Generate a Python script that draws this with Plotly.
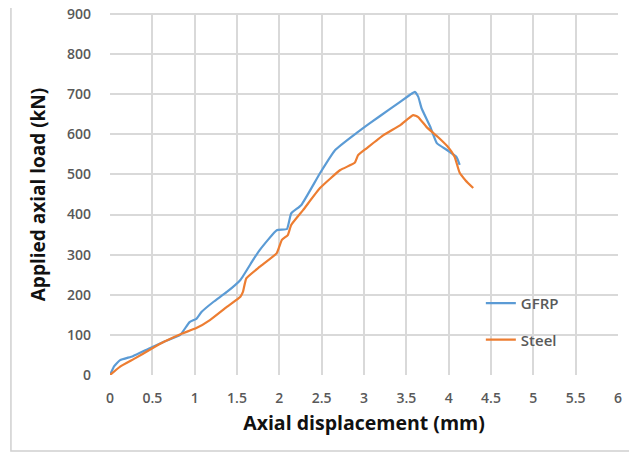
import plotly.graph_objects as go

gfrp_x = [0, 0.05, 0.12, 0.27, 0.47, 0.65, 0.83, 0.94, 1.02, 1.08, 1.22, 1.38, 1.54, 1.69, 1.77, 1.97, 2.09, 2.14, 2.26, 2.48, 2.66, 2.91, 3.07, 3.30, 3.54, 3.60, 3.64, 3.68, 3.78, 3.86, 3.98, 4.09, 4.13]
gfrp_y = [0, 22, 37, 47, 67, 84, 100, 132, 140, 157, 182, 207, 237, 287, 312, 361, 364, 403, 424, 503, 561, 603, 628, 662, 698, 706, 694, 665, 620, 578, 561, 544, 524]

steel_x = [0, 0.12, 0.30, 0.47, 0.65, 0.86, 1.02, 1.18, 1.38, 1.54, 1.57, 1.61, 1.77, 1.97, 2.03, 2.10, 2.14, 2.28, 2.48, 2.72, 2.89, 2.93, 3.03, 3.23, 3.43, 3.58, 3.64, 3.74, 3.87, 3.99, 4.07, 4.13, 4.20, 4.29]
steel_y = [0, 21, 42, 63, 84, 104, 117, 137, 170, 195, 207, 241, 270, 304, 337, 349, 374, 411, 466, 511, 529, 548, 565, 598, 623, 648, 643, 618, 594, 569, 544, 504, 485, 466]

x_ticks = [0, 0.5, 1, 1.5, 2, 2.5, 3, 3.5, 4, 4.5, 5, 5.5, 6]
x_labels = ["0", "0.5", "1", "1.5", "2", "2.5", "3", "3.5", "4", "4.5", "5", "5.5", "6"]
y_ticks = [0, 100, 200, 300, 400, 500, 600, 700, 800, 900]

FONT = "Open Sans"
GRID = "#d9d9d9"

fig = go.Figure()
fig.add_trace(go.Scatter(x=gfrp_x, y=gfrp_y, mode="lines", name="GFRP",
                         line=dict(color="#5b9bd5", width=2.2, shape="spline", smoothing=0.4),
                         legendgroup="a"))
fig.add_trace(go.Scatter(x=steel_x, y=steel_y, mode="lines", name="Steel",
                         line=dict(color="#ed7d31", width=2.2, shape="spline", smoothing=0.4),
                         legendgroup="b"))

fig.update_layout(
    width=629, height=466,
    margin=dict(l=102, r=19, t=6, b=99, autoexpand=False),
    paper_bgcolor="white", plot_bgcolor="white",
    font=dict(family=FONT, color="#595959"),
    showlegend=True,
    legend=dict(x=0.73, y=0.244, xanchor="left", yanchor="top",
                bgcolor="rgba(0,0,0,0)", tracegroupgap=14,
                font=dict(family=FONT, size=15, color="#595959", weight=600),
                itemwidth=30),
    xaxis=dict(range=[0, 6], tickvals=x_ticks, ticktext=x_labels,
               showgrid=True, gridcolor=GRID, gridwidth=1.5,
               zeroline=False, showline=False, ticks="", automargin=False,
               ticklabeloverflow="allow",
               tickfont=dict(family=FONT, size=14, color="#595959", weight=600),
               ticklabelstandoff=13,
               title=dict(text="Axial displacement (mm)", standoff=10,
                          font=dict(family=FONT, size=19.5, color="#111111", weight="bold"))),
    yaxis=dict(range=[0, 900], tickvals=y_ticks,
               showgrid=True, gridcolor=GRID, gridwidth=1.5,
               zeroline=False, showline=False, ticks="", automargin=False,
               ticklabeloverflow="allow",
               tickfont=dict(family=FONT, size=14, color="#595959", weight=600),
               ticklabelstandoff=18,
               title=dict(text="Applied axial load (kN)", standoff=16,
                          font=dict(family=FONT, size=19, color="#111111", weight="bold"))),
)

# top grid line at the upper edge of the plot area
fig.add_shape(type="line", xref="paper", yref="paper", x0=0, x1=1, y0=1, y1=1,
              line=dict(color=GRID, width=2), layer="above")

# outer chart border box
fig.add_shape(type="rect", xref="paper", yref="paper",
              x0=-0.195, x1=1.031, y0=-0.2105, y1=1.05,
              line=dict(color="#d0d0d0", width=1.5), layer="below")

fig.add_annotation(xref="paper", yref="paper", x=-0.217, y=-0.262,
                   xanchor="left", yanchor="top", showarrow=False,
                   text="Fig. 12\u2003\u2003The applied axial load vs axial displacement for samples A100 S",
                   font=dict(family="Liberation Serif", size=17, color="#111111"))

fig.write_html("out.html")
